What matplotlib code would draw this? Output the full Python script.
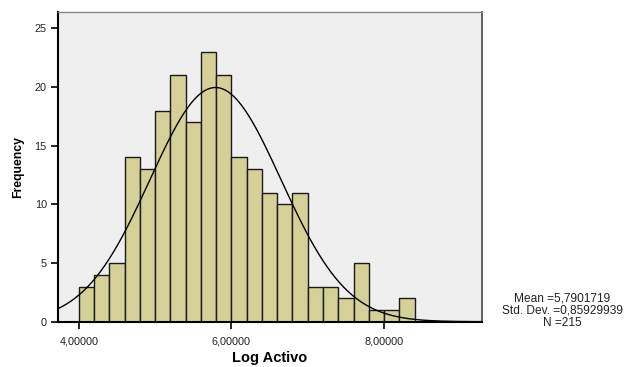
#!/usr/bin/env python3
"""SPSS-style histogram of Log Activo with normal curve."""

import matplotlib
matplotlib.use("Agg")
import matplotlib.pyplot as plt
import numpy as np

# bins of width 0.2 starting at 4.0
bin_edges = [4.0, 4.2, 4.4, 4.6, 4.8, 5.0, 5.2, 5.4, 5.6, 5.8, 6.0, 6.2,
             6.4, 6.6, 6.8, 7.0, 7.2, 7.4, 7.6, 7.8, 8.0, 8.2, 8.4]
counts = [3, 4, 5, 14, 13, 18, 21, 17, 23, 21, 14,
          13, 11, 10, 11, 3, 3, 2, 5, 1, 1, 2]
mean = 5.7901719
std = 0.85929939
n = 215
x_ticks = [4.0, 6.0, 8.0]
x_tick_labels = ["4,00000", "6,00000", "8,00000"]
y_ticks = [0, 5, 10, 15, 20, 25]

plt.rcParams["font.family"] = ["Liberation Sans", "DejaVu Sans"]

W, H = 628, 367
fig = plt.figure(figsize=(W / 100, H / 100), dpi=100)
ax = fig.add_axes([58 / W, 1 - 321.7 / H, (482 - 58) / W, (321.7 - 12) / H])
ax.set_facecolor("#efefef")

edges = np.array(bin_edges)
widths = np.diff(edges)
ax.bar(edges[:-1], counts, width=widths, align="edge", color="#d4d098",
       edgecolor="#1a1a1a", linewidth=1.0, zorder=2)

xlim = (3.725, 9.285)
xs = np.linspace(xlim[0], xlim[1], 400)
bw = widths[0]
ys = n * bw * np.exp(-0.5 * ((xs - mean) / std) ** 2) / (std * np.sqrt(2 * np.pi))
ax.plot(xs, ys, color="black", linewidth=1.0, zorder=3)

ax.set_xlim(*xlim)
ax.set_ylim(0, 26.4)
ax.set_xticks(x_ticks)
ax.set_xticklabels(x_tick_labels, fontsize=7.8, color="#222222")
ax.set_yticks(y_ticks)
ax.set_yticklabels([str(v) for v in y_ticks], fontsize=7.8, color="#222222")
ax.tick_params(axis="both", direction="out", length=5, width=1.2, color="black")
ax.tick_params(axis="x", pad=6)
ax.tick_params(axis="y", pad=3)

for side in ("left", "bottom"):
    ax.spines[side].set_linewidth(1.5)
    ax.spines[side].set_color("black")
ax.spines["top"].set_color("#888888")
ax.spines["top"].set_linewidth(1.0)
ax.spines["right"].set_color("#555555")
ax.spines["right"].set_linewidth(1.3)

ax.set_xlabel("Log Activo", fontsize=10.5, fontweight="bold")
ax.xaxis.set_label_coords((270 - 58) / (482 - 58), -(358 - 321.7) / (321.7 - 12))
ax.xaxis.label.set_va("center")
ax.set_ylabel("Frequency", fontsize=8.8, fontweight="bold")
ax.yaxis.set_label_coords(-(58 - 18) / (482 - 58), 0.5)
ax.yaxis.label.set_va("center")

fig.text(562 / W, 1 - 310.5 / H,
         f"Mean =5,7901719\nStd. Dev. =0,85929939\nN ={n}",
         ha="center", va="center", fontsize=8.6, linespacing=1.0, color="#222222")

fig.savefig("out.png", dpi=100)
